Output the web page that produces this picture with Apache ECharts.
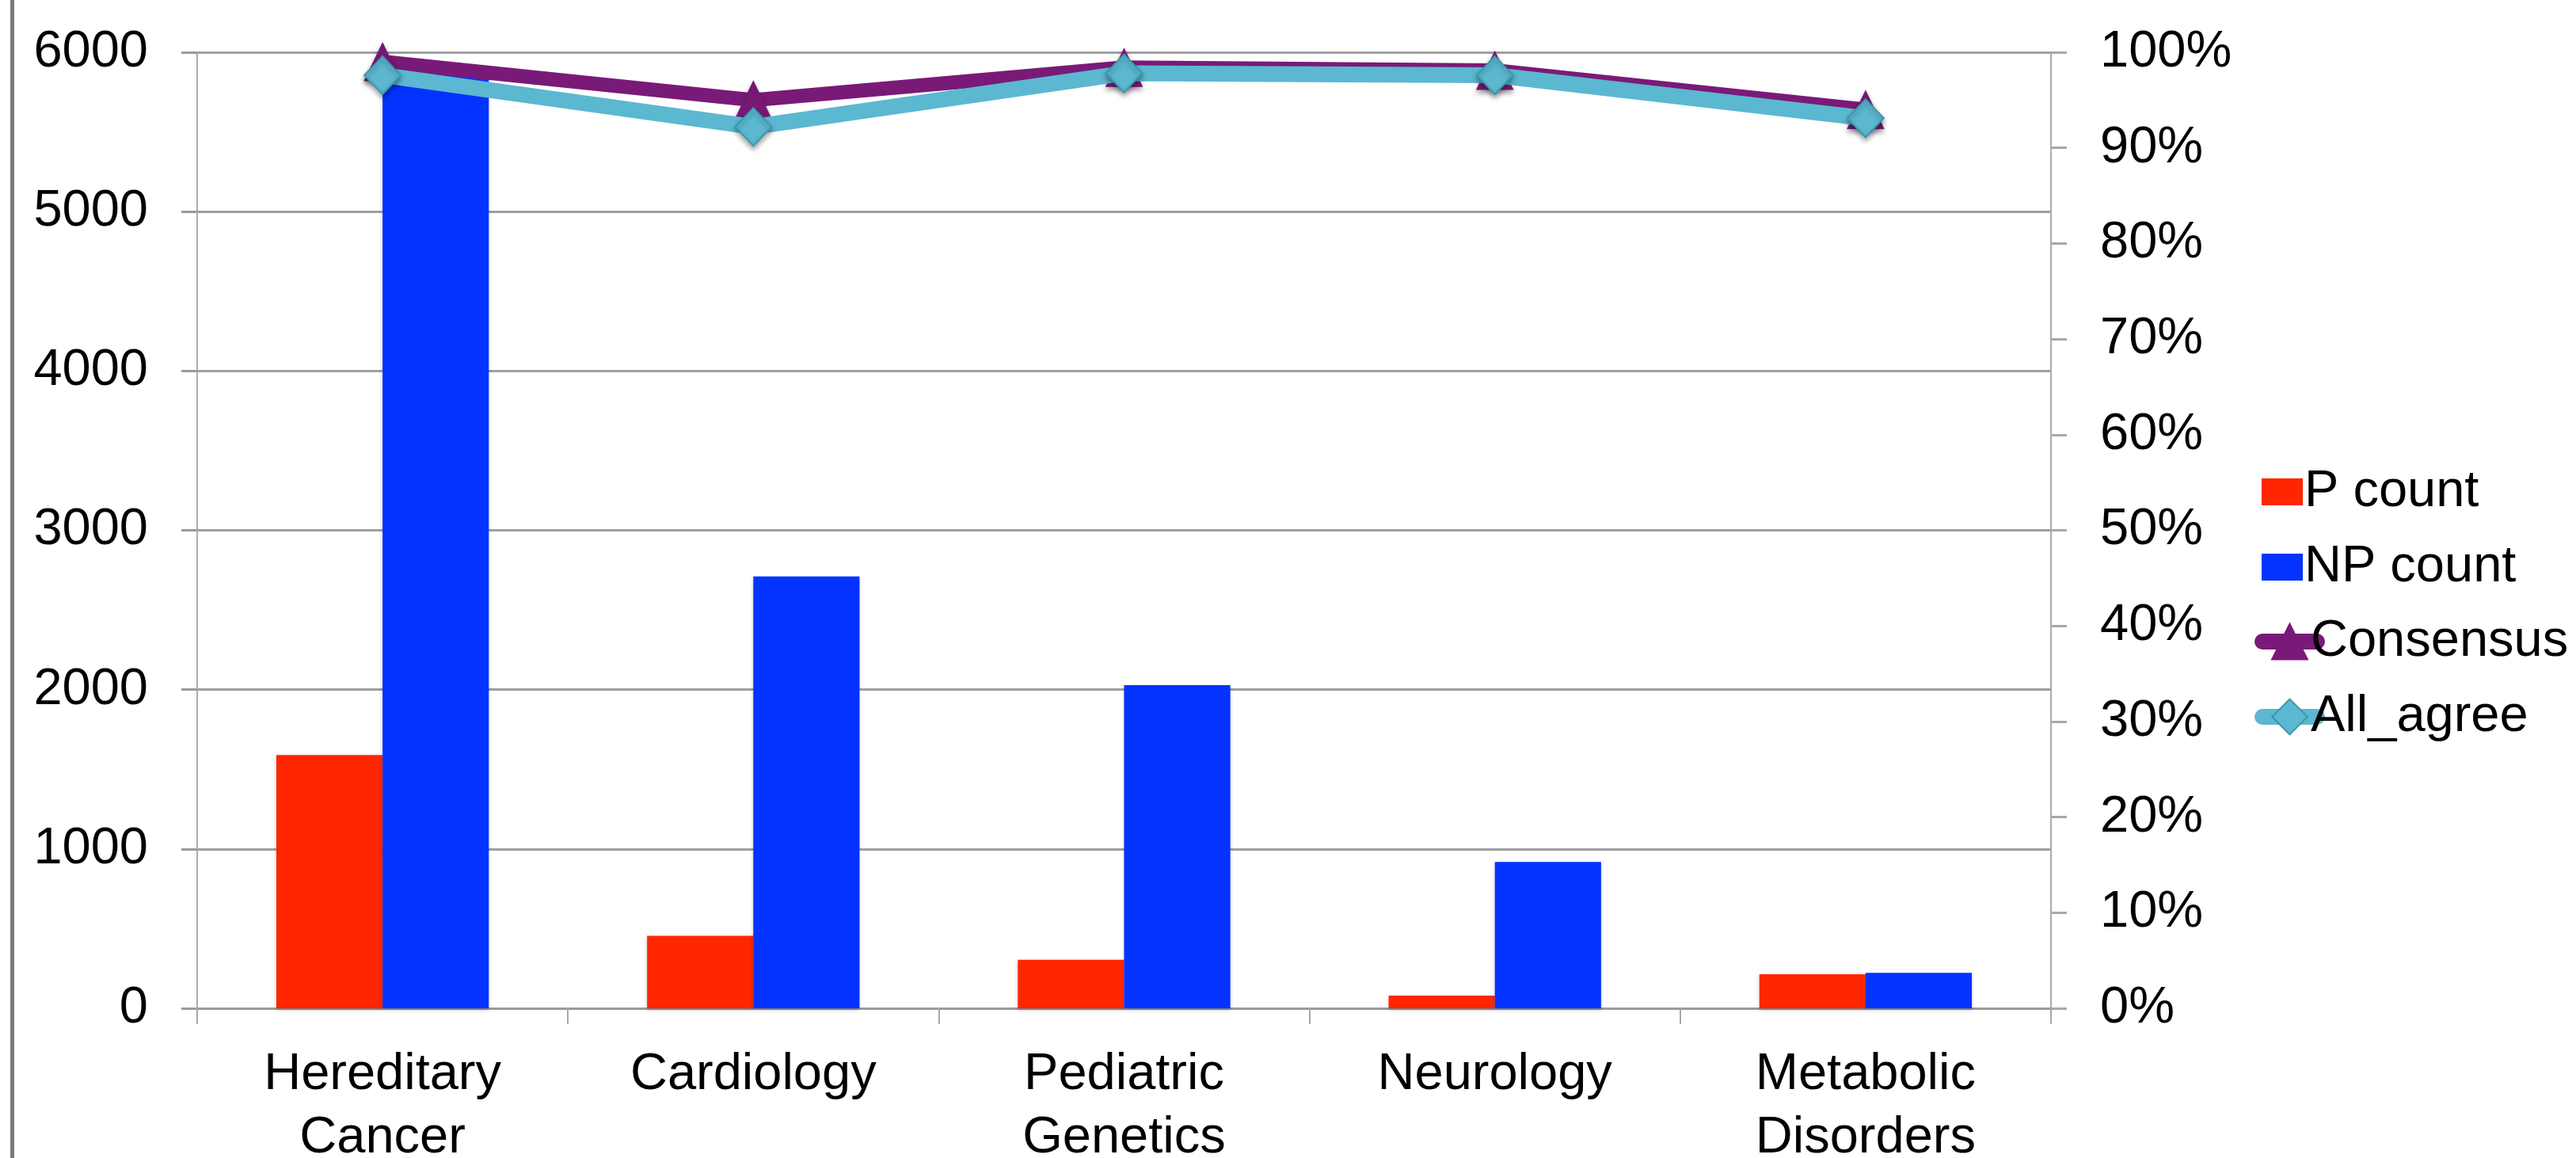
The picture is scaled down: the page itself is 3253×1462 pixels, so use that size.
<!DOCTYPE html>
<html>
<head>
<meta charset="utf-8">
<script src="https://cdn.jsdelivr.net/npm/echarts@6/dist/echarts.min.js"></script>
<style>
html,body{margin:0;padding:0;background:#fff;}
#chart{width:3253px;height:1462px;}
</style>
</head>
<body>
<div id="chart"></div>
<script>
const categories = ['Hereditary\nCancer', 'Cardiology', 'Pediatric\nGenetics', 'Neurology', 'Metabolic\nDisorders'];
const pCount = [1590, 455, 305, 80, 214];
const npCount = [5880, 2710, 2028, 918, 222];
const consensus = [99.0, 95.0, 98.4, 98.1, 94.0];
const allAgree = [97.6, 92.2, 97.8, 97.6, 93.1];
const leftTicks = [0, 1000, 2000, 3000, 4000, 5000, 6000];
const rightTicks = [0, 10, 20, 30, 40, 50, 60, 70, 80, 90, 100];

const FONT = '"Liberation Sans", Arial, Helvetica, sans-serif';
const chart = echarts.init(document.getElementById('chart'), null, {renderer: 'canvas'});
const textBase = {fontFamily: FONT, fontSize: 65, color: '#000'};

chart.setOption({
  animation: false,
  backgroundColor: '#ffffff',
  textStyle: {fontFamily: FONT},
  grid: {left: 249, right: 663, top: 66, bottom: 189, containLabel: false, outerBoundsMode: 'none'},
  graphic: [{
    type: 'rect', left: 13, top: 0,
    shape: {width: 5, height: 1462},
    style: {fill: '#7a7a7a'}
  }],
  legend: [{
    orient: 'vertical', left: 2851, top: 581,
    itemWidth: 52, itemHeight: 34, itemGap: 25,
    icon: 'rect',
    textStyle: Object.assign({}, textBase, {lineHeight: 70, padding: [0, 0, 0, -3]}),
    data: ['P count', 'NP count']
  }, {
    orient: 'vertical', left: 2842, top: 770,
    itemWidth: 69, itemHeight: 56, itemGap: 25,
    lineStyle: {width: 20, cap: 'round'},
    textStyle: Object.assign({}, textBase, {lineHeight: 70, padding: [0, 0, 0, -13]}),
    data: ['Consensus', 'All_agree']
  }],
  xAxis: {
    type: 'category',
    data: categories,
    boundaryGap: true,
    axisLine: {show: true, lineStyle: {color: '#9a9a9a', width: 3}},
    axisTick: {show: true, alignWithLabel: false, length: 20, lineStyle: {color: '#a8a8a8', width: 2}},
    axisLabel: Object.assign({}, textBase, {margin: 44, lineHeight: 80, interval: 0}),
    splitLine: {show: false}
  },
  yAxis: [{
    type: 'value', min: leftTicks[0], max: leftTicks[leftTicks.length - 1], interval: 1000,
    position: 'left',
    axisLine: {show: true, lineStyle: {color: '#ababab', width: 2}},
    axisTick: {show: true, length: 20, lineStyle: {color: '#9a9a9a', width: 3}},
    axisLabel: Object.assign({}, textBase, {margin: 62, formatter: function (v) { return String(v); }}),
    splitLine: {show: true, lineStyle: {color: '#9f9f9f', width: 3}}
  }, {
    type: 'value', min: rightTicks[0], max: rightTicks[rightTicks.length - 1], interval: 10,
    position: 'right',
    axisLine: {show: true, lineStyle: {color: '#ababab', width: 2}},
    axisTick: {show: true, length: 20, lineStyle: {color: '#a8a8a8', width: 3}},
    axisLabel: Object.assign({}, textBase, {margin: 62, formatter: '{value}%'}),
    splitLine: {show: false}
  }],
  series: [{
    name: 'P count', type: 'bar', yAxisIndex: 0,
    data: pCount,
    barGap: '0%', barCategoryGap: '42.7%',
    itemStyle: {color: '#ff2600', shadowColor: 'rgba(0,0,0,0.25)', shadowBlur: 4, shadowOffsetY: 2}
  }, {
    name: 'NP count', type: 'bar', yAxisIndex: 0,
    data: npCount,
    barGap: '0%', barCategoryGap: '42.7%',
    itemStyle: {color: '#0433ff', shadowColor: 'rgba(0,0,0,0.25)', shadowBlur: 4, shadowOffsetY: 2}
  }, {
    name: 'Consensus', type: 'line', yAxisIndex: 1,
    data: consensus,
    symbol: 'triangle', symbolSize: [46, 48],
    lineStyle: {color: '#7a1a78', width: 18},
    itemStyle: {color: '#7a1a78', borderColor: '#7a1a78', borderWidth: 1,
      shadowColor: 'rgba(0,0,0,0.35)', shadowBlur: 6, shadowOffsetY: 4},
    z: 3
  }, {
    name: 'All_agree', type: 'line', yAxisIndex: 1,
    data: allAgree,
    symbol: 'diamond', symbolSize: [46, 48],
    lineStyle: {color: '#5bb8d0', width: 20},
    itemStyle: {color: '#5bb8d0', borderColor: '#3a97ae', borderWidth: 2,
      shadowColor: 'rgba(0,0,0,0.35)', shadowBlur: 6, shadowOffsetY: 4},
    z: 4
  }]
});
</script>
</body>
</html>
